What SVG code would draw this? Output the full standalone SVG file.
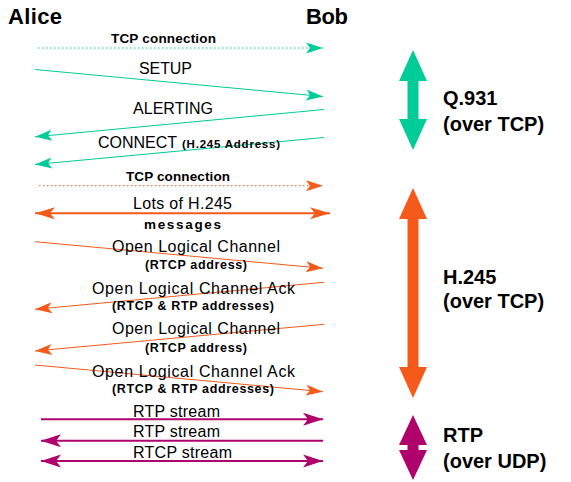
<svg xmlns="http://www.w3.org/2000/svg" width="571" height="482" viewBox="0 0 571 482">
<style>
text{font-family:"Liberation Sans",Arial,sans-serif;fill:#000}
.hdr{font-size:22px;font-weight:bold}
.lbl{font-size:16px}
.tcp{font-size:13.5px;font-weight:bold}
.sm{font-size:12.5px;font-weight:bold}
.xs{font-size:11.5px;font-weight:bold}
.side{font-size:20px;font-weight:bold}
.teal{stroke:#00CC99;fill:none;stroke-width:1}
.or{stroke:#F55A1A;fill:none;stroke-width:1}
.orT{stroke:#F55A1A;fill:none;stroke-width:2}
.mg{stroke:#B0006B;fill:none;stroke-width:2}
.dot{stroke-dasharray:1.5 2.5}
</style>
<defs>
<marker id="aTeal" markerUnits="userSpaceOnUse" orient="auto-start-reverse" refX="0" refY="0" markerWidth="20" markerHeight="14" overflow="visible"><path d="M0,0 L-17,-5.5 L-13,0 L-17,5.5 Z" fill="#00CC99"/></marker>
<marker id="aOr" markerUnits="userSpaceOnUse" orient="auto-start-reverse" refX="0" refY="0" markerWidth="20" markerHeight="14" overflow="visible"><path d="M0,0 L-17,-5.5 L-13,0 L-17,5.5 Z" fill="#F55A1A"/></marker>
<marker id="aOrT" markerUnits="userSpaceOnUse" orient="auto-start-reverse" refX="0" refY="0" markerWidth="24" markerHeight="16" overflow="visible"><path d="M0,0 L-20,-6 L-15,0 L-20,6 Z" fill="#F55A1A"/></marker>
<marker id="aMg" markerUnits="userSpaceOnUse" orient="auto-start-reverse" refX="0" refY="0" markerWidth="24" markerHeight="16" overflow="visible"><path d="M0,0 L-20,-6.5 L-15,0 L-20,6.5 Z" fill="#B0006B"/></marker>
</defs>
<rect width="571" height="482" fill="#fff"/>

<g id="alice"><text class="hdr" x="8" y="24" textLength="54" lengthAdjust="spacing">Alice</text></g>
<g id="bob"><text class="hdr" x="306" y="24" textLength="42" lengthAdjust="spacing">Bob</text></g>

<g id="connectors">
<path class="teal dot" d="M38,48 H323" marker-end="url(#aTeal)"/>
<path class="teal" d="M35,69.5 L323,96.5" marker-end="url(#aTeal)"/>
<path class="teal" d="M324,109.5 L35,136.8" marker-end="url(#aTeal)"/>
<path class="teal" d="M324,137.5 L35,164.5" marker-end="url(#aTeal)"/>
<path class="or dot" d="M39,185.7 H323" marker-end="url(#aOr)"/>
<path class="orT" d="M35,213.3 H330" marker-start="url(#aOrT)" marker-end="url(#aOrT)"/>
<path class="or" d="M35,241.7 L323,268.3" marker-end="url(#aOr)"/>
<path class="or" d="M324,282.3 L35,309.3" marker-end="url(#aOr)"/>
<path class="or" d="M324,324.3 L35,351" marker-end="url(#aOr)"/>
<path class="or" d="M35,365 L323,391.7" marker-end="url(#aOr)"/>
<path class="mg" d="M41,419.3 H323" marker-end="url(#aMg)"/>
<path class="mg" d="M323,440.7 H41" marker-end="url(#aMg)"/>
<path class="mg" d="M41,461 H323" marker-start="url(#aMg)" marker-end="url(#aMg)"/>

<text class="tcp" x="111" y="42.5" textLength="105" lengthAdjust="spacing">TCP connection</text>
<text class="lbl" x="139" y="74" textLength="53" lengthAdjust="spacing">SETUP</text>
<text class="lbl" x="133" y="114" textLength="80" lengthAdjust="spacing">ALERTING</text>
<text class="lbl" x="98" y="148" textLength="79" lengthAdjust="spacing">CONNECT</text>
<text class="xs" x="182" y="148" textLength="98" lengthAdjust="spacing">(H.245 Address)</text>
<text class="tcp" x="126" y="180.7" textLength="104" lengthAdjust="spacing">TCP connection</text>
<text class="lbl" x="133" y="209" textLength="99" lengthAdjust="spacing">Lots of H.245</text>
<text class="tcp" x="144" y="229" textLength="77" lengthAdjust="spacing">messages</text>
<text class="lbl" x="112" y="252" textLength="168" lengthAdjust="spacing">Open Logical Channel</text>
<text class="sm" x="145" y="269" textLength="102" lengthAdjust="spacing">(RTCP address)</text>
<text class="lbl" x="92" y="294" textLength="203" lengthAdjust="spacing">Open Logical Channel Ack</text>
<text class="sm" x="112" y="310" textLength="162" lengthAdjust="spacing">(RTCP &amp; RTP addresses)</text>
<text class="lbl" x="112" y="334" textLength="168" lengthAdjust="spacing">Open Logical Channel</text>
<text class="sm" x="145" y="351.5" textLength="102" lengthAdjust="spacing">(RTCP address)</text>
<text class="lbl" x="92" y="376.7" textLength="203" lengthAdjust="spacing">Open Logical Channel Ack</text>
<text class="sm" x="112" y="392.7" textLength="162" lengthAdjust="spacing">(RTCP &amp; RTP addresses)</text>
<text class="lbl" x="133" y="416.7" textLength="87" lengthAdjust="spacing">RTP stream</text>
<text class="lbl" x="133" y="437" textLength="87" lengthAdjust="spacing">RTP stream</text>
<text class="lbl" x="133" y="457.7" textLength="99" lengthAdjust="spacing">RTCP stream</text>
</g>

<g id="q931">
<polygon fill="#00CC99" points="413,50 427,81 418.5,81 418.5,119 427,119 413,150 399,119 407.5,119 407.5,81 399,81"/>
<text class="side" x="443" y="105">Q.931</text>
<text class="side" x="443" y="130.5">(over TCP)</text>
</g>
<g id="h245">
<polygon fill="#F55A1A" points="413,188 427,219 418.5,219 418.5,367 427,367 413,398 399,367 407.5,367 407.5,219 399,219"/>
<text class="side" x="443" y="284">H.245</text>
<text class="side" x="443" y="308">(over TCP)</text>
</g>
<g id="rtp">
<polygon fill="#B0006B" points="413,415 427,445 418.5,445 418.5,450 427,450 413,480 399,450 407.5,450 407.5,445 399,445"/>
<text class="side" x="443" y="441.7">RTP</text>
<text class="side" x="443" y="467.7">(over UDP)</text>
</g>
</svg>
